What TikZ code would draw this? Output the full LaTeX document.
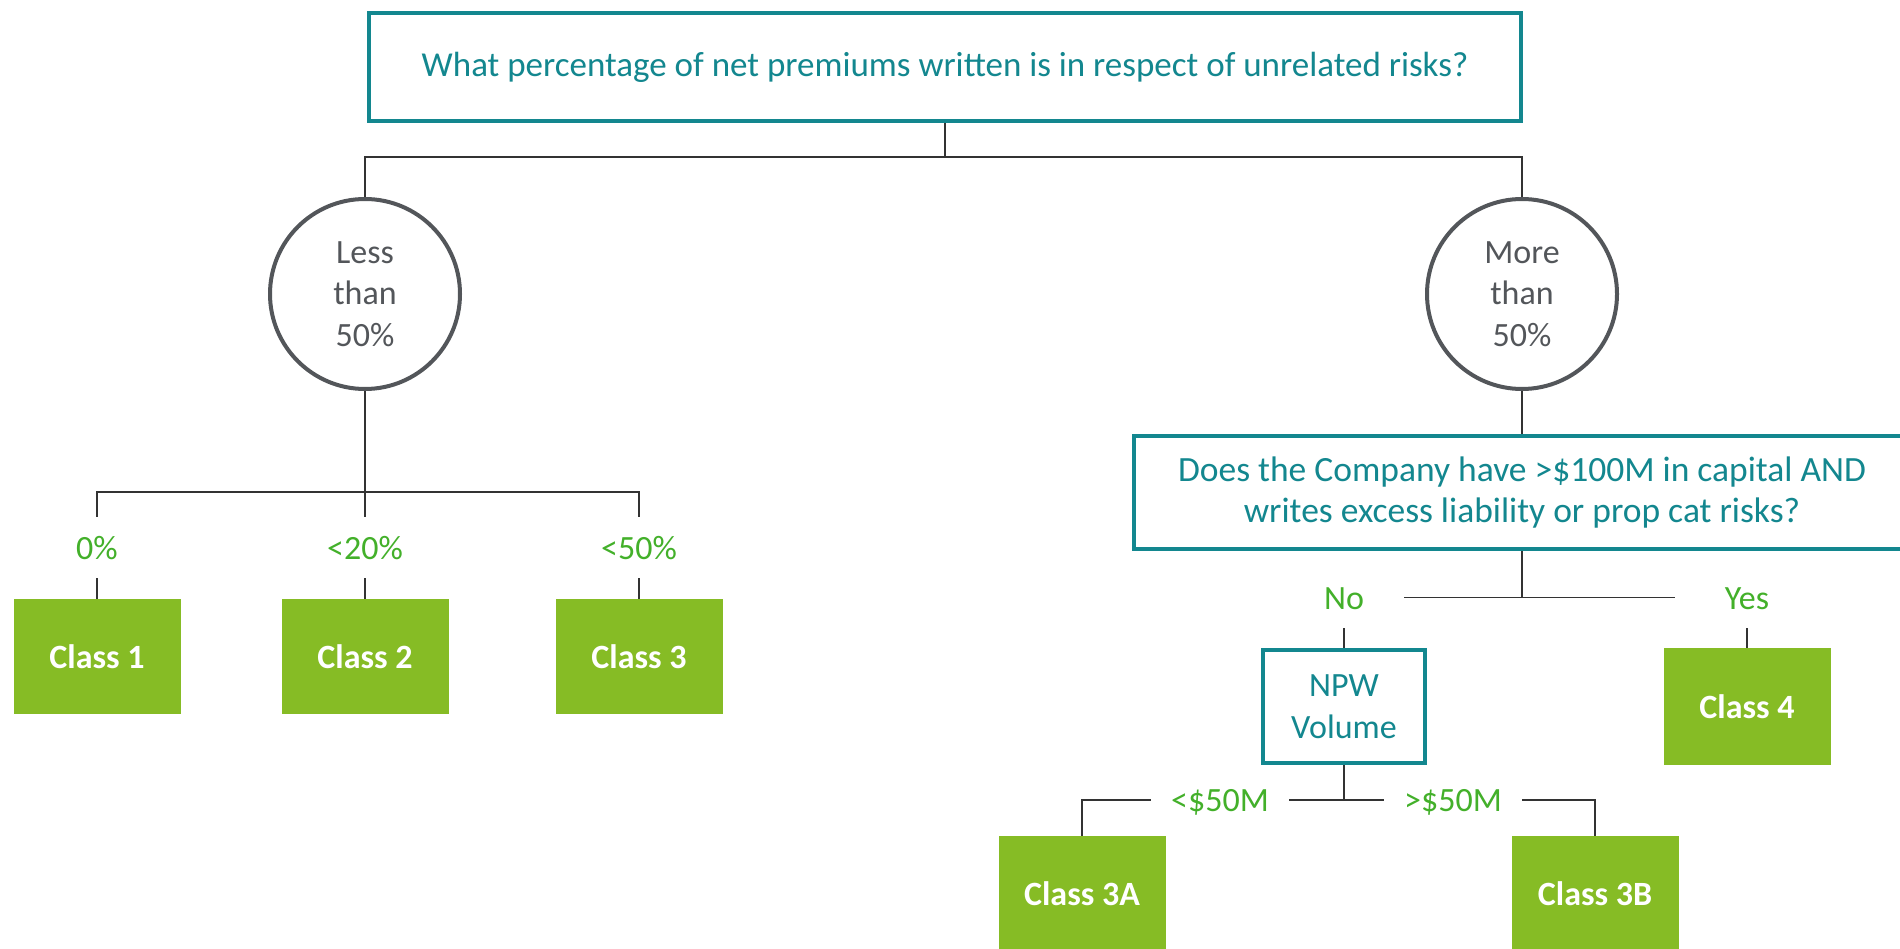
\documentclass[tikz,border=0pt]{standalone}
\usepackage{fontspec}
\setmainfont{Carlito}
\usepackage{tikz}
\usetikzlibrary{shapes}
\definecolor{qteal}{RGB}{19,135,143}
\definecolor{boxgreen}{RGB}{134,188,37}
\definecolor{labgreen}{RGB}{67,176,42}
\definecolor{circgray}{RGB}{83,86,90}
\newcommand{\bigfont}{\fontsize{34}{41.5}\selectfont}
\tikzstyle{question}=[rectangle,draw=qteal,line width=4pt,fill=white,text=qteal,align=center,font=\bigfont]
\tikzstyle{pctcircle}=[circle,draw=circgray,line width=4pt,text=circgray,minimum size=190pt,inner sep=0pt,align=center,font=\bigfont]
\tikzstyle{classbox}=[rectangle,fill=boxgreen,text=white,minimum width=167pt,minimum height=115pt,font=\bigfont\bfseries]
\tikzstyle{choice}=[text=labgreen,font=\bigfont,text height=23pt,text depth=0pt,inner xsep=20pt,inner ysep=19pt]
\tikzstyle{link}=[draw=black!80,line width=1.5pt]

\begin{document}
\begin{tikzpicture}[x=1pt,y=-1pt]
      \useasboundingbox (0,0) rectangle (1900,949);
      % questions
      \node[question,minimum width=1152pt,minimum height=108pt,font=\fontsize{35}{41}\selectfont] at (945,67) (q1) {What percentage of net premiums written is in respect of unrelated risks?};
      \node[question,minimum width=776pt,minimum height=113pt,font=\fontsize{35.5}{41}\selectfont] at (1522,492.5) (q2) {Does the Company have >\$100M in capital AND\\writes excess liability or prop cat risks?};
      \node[question,minimum width=162pt,minimum height=113pt] at (1344,706.5) (npw) {NPW\\Volume};
      % share of unrelated risks
      \node[pctcircle] at (365,294) (less) {Less\\than\\50\%};
      \node[pctcircle] at (1522,294) (more) {More\\than\\50\%};
      % answers
      \node[choice] at (97,547.5) (p0) {0\%};
      \node[choice] at (365,547.5) (p20) {<20\%};
      \node[choice] at (639,547.5) (p50) {<50\%};
      \node[choice,inner xsep=40pt] at (1344,597.5) (no) {No};
      \node[choice,inner xsep=50pt] at (1747,597.5) (yes) {Yes};
      \node[choice] at (1220,800) (lt) {<\$50M};
      \node[choice] at (1453,800) (gt) {>\$50M};
      % classes
      \node[classbox] at (97,656.5) (c1) {Class 1};
      \node[classbox] at (365,656.5) (c2) {Class 2};
      \node[classbox] at (639,656.5) (c3) {Class 3};
      \node[classbox,minimum height=117pt] at (1747,706.5) (c4) {Class 4};
      \node[classbox] at (1082,893.5) (c3a) {Class 3A};
      \node[classbox] at (1595,893.5) (c3b) {Class 3B};
      % connectors
      \coordinate (jt) at (945,157);
      \coordinate (jl) at (365,492);
      \draw[link] (q1.south)--(jt);
      \draw[link] (jt) -| (less.north);
      \draw[link] (jt) -| (more.north);
      \draw[link] (less.south)--(jl);
      \draw[link] (jl) -| (p0.north);
      \draw[link] (jl)--(p20.north);
      \draw[link] (jl) -| (p50.north);
      \draw[link] (p0.south)--(c1.north);
      \draw[link] (p20.south)--(c2.north);
      \draw[link] (p50.south)--(c3.north);
      \draw[link] (more.south)--(q2.north);
      \draw[link] (q2.south)--(q2.south |- no.east);
      \draw[link] (no.east)--(yes.west);
      \draw[link] (no.south)--(npw.north);
      \draw[link] (yes.south)--(c4.north);
      \draw[link] (npw.south)--(npw.south |- lt.east);
      \draw[link] (lt.east)--(gt.west);
      \draw[link] (lt.west) -| (c3a.north);
      \draw[link] (gt.east) -| (c3b.north);
    \end{tikzpicture}
\end{document}
